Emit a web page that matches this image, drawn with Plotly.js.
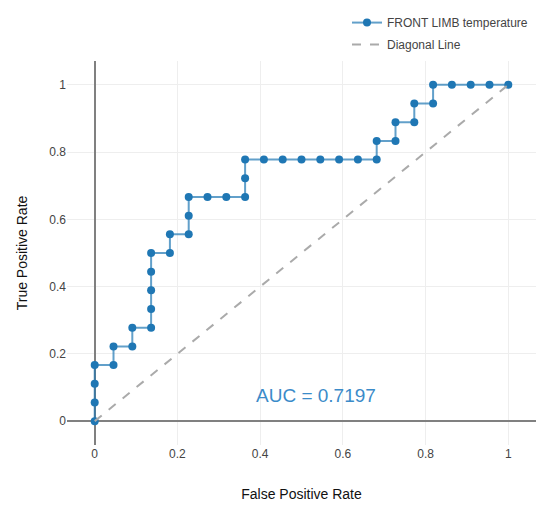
<!DOCTYPE html>
<html>
<head>
<meta charset="utf-8">
<script src="https://cdn.plot.ly/plotly-3.0.1.min.js"></script>
<style>html,body{margin:0;padding:0;background:#fff;}#chart{width:537px;height:505px;}</style>
</head>
<body>
<div id="chart"></div>
<script>
// ROC curve points (FPR in 1/22 steps, TPR in 1/18 steps)
var fpr = [0, 0, 0, 0, 1/22, 1/22, 2/22, 2/22, 3/22, 3/22, 3/22, 3/22, 3/22, 4/22, 4/22, 5/22, 5/22, 5/22, 6/22, 7/22, 8/22, 8/22, 8/22, 9/22, 10/22, 11/22, 12/22, 13/22, 14/22, 15/22, 15/22, 16/22, 16/22, 17/22, 17/22, 18/22, 18/22, 19/22, 20/22, 21/22, 1];
var tpr = [0, 1/18, 2/18, 3/18, 3/18, 4/18, 4/18, 5/18, 5/18, 6/18, 7/18, 8/18, 9/18, 9/18, 10/18, 10/18, 11/18, 12/18, 12/18, 12/18, 12/18, 13/18, 14/18, 14/18, 14/18, 14/18, 14/18, 14/18, 14/18, 14/18, 15/18, 15/18, 16/18, 16/18, 17/18, 17/18, 1, 1, 1, 1, 1];
var diagX = [0, 1];
var diagY = [0, 1];
var seriesName = "FRONT LIMB temperature";
var diagName = "Diagonal Line";
var aucText = "AUC = 0.7197";
var tickVals = [0, 0.2, 0.4, 0.6, 0.8, 1];
var tickText = ["0", "0.2", "0.4", "0.6", "0.8", "1"];

var font = "Arial, 'Liberation Sans', sans-serif";

var traces = [
  {
    x: fpr, y: tpr, type: 'scatter', mode: 'lines+markers', name: seriesName,
    legendgroup: 'a',
    line: {color: 'rgba(31,119,180,0.7)', width: 2},
    marker: {color: '#1f77b4', size: 8}
  },
  {
    x: diagX, y: diagY, type: 'scatter', mode: 'lines', name: diagName,
    legendgroup: 'b',
    line: {color: '#aaaaaa', width: 2, dash: 'dash'}
  }
];

var layout = {
  width: 537, height: 505,
  margin: {l: 67, r: 1, t: 61, b: 60},
  paper_bgcolor: '#ffffff', plot_bgcolor: '#ffffff',
  font: {family: font, size: 12, color: '#444'},
  xaxis: {
    range: [-0.067, 1.067], tickvals: tickVals, ticktext: tickText,
    showgrid: true, gridcolor: '#eeeeee', gridwidth: 1,
    zeroline: true, zerolinecolor: '#808080', zerolinewidth: 2,
    showline: false, ticks: '',
    title: {text: 'False Positive Rate', font: {size: 14, color: '#111'}, standoff: 29}
  },
  yaxis: {
    range: [-0.071, 1.071], tickvals: tickVals, ticktext: tickText,
    showgrid: true, gridcolor: '#eeeeee', gridwidth: 1,
    zeroline: true, zerolinecolor: '#808080', zerolinewidth: 2,
    showline: false, ticks: '',
    title: {text: 'True Positive Rate', font: {size: 14, color: '#111'}, standoff: 18}
  },
  showlegend: true,
  legend: {
    x: 0.9936, xanchor: 'right', y: 1.005, yanchor: 'bottom',
    bgcolor: 'rgba(255,255,255,0)', borderwidth: 0,
    font: {size: 12, color: '#444'},
    traceorder: 'grouped', tracegroupgap: 3
  },
  annotations: [
    {x: 0.536, y: 0.077, xref: 'x', yref: 'y', text: aucText, showarrow: false,
     font: {size: 19, color: '#3b8bc9'}}
  ]
};

Plotly.newPlot('chart', traces, layout, {displayModeBar: false, staticPlot: true});
</script>
</body>
</html>
